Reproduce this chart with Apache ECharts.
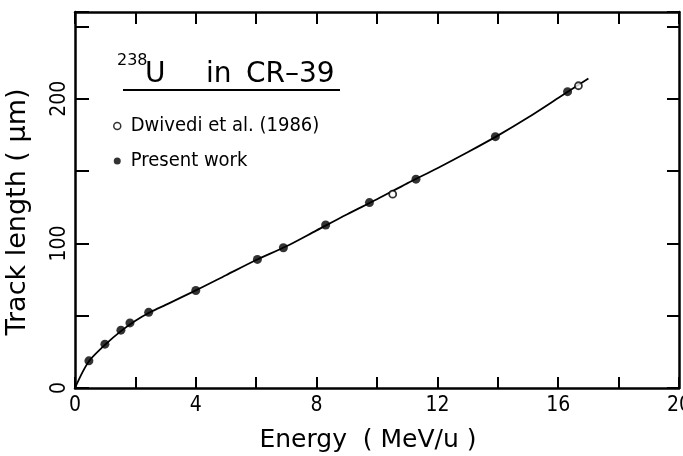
<!DOCTYPE html>
<html>
<head>
<meta charset="utf-8">
<script src="https://cdn.jsdelivr.net/npm/echarts@6/dist/echarts.min.js"></script>
<style>html,body{margin:0;padding:0;background:#fff}#c{width:683px;height:456px}</style>
</head>
<body>
<div id="c"></div>
<script>
// Data
const presentWork = [
  [0.46, 18.8], [0.99, 30.3], [1.52, 40.0], [1.82, 45.0], [2.44, 52.3],
  [4.0, 67.4], [6.04, 88.9], [6.9, 97.0], [8.3, 112.7], [9.75, 128.2],
  [11.29, 144.4], [13.92, 173.8], [16.31, 204.9]
];
const dwivedi = [[10.52, 134.0], [16.67, 209.0]];
const curveE = [0, 0.25, 0.5, 1, 1.5, 2, 2.5, 3, 4, 5, 6, 7, 8, 9, 10, 11, 12, 13, 14, 15, 16, 17];
const curveL = [0, 11, 19.5, 30, 39, 46.5, 52.5, 57.5, 67.5, 78, 88.5, 98, 109, 120, 130.5, 141.5, 152, 163, 174.5, 187, 200.5, 214];
const xTickLabels = [0, 4, 8, 12, 16, 20];
const yTickLabels = [0, 100, 200];

const narrow = '"Liberation Sans Narrow", "DejaVu Sans Condensed", "Liberation Sans", sans-serif';
const round = '"DejaVu Sans", sans-serif';

const chart = echarts.init(document.getElementById('c'));
const axisLine = {show: true, onZero: false, lineStyle: {color: '#000', width: 2.5}};
const tick = (len) => ({show: true, inside: true, length: len, lineStyle: {color: '#000', width: 2}});
chart.setOption({
  animation: false,
  backgroundColor: '#fff',
  grid: {left: 75, right: 4, top: 12, bottom: 68, containLabel: false, outerBoundsMode: 'none'},
  xAxis: [{
    type: 'value', min: 0, max: 20, interval: 2, position: 'bottom',
    name: 'Energy  ( MeV/u )', nameLocation: 'middle', nameGap: 40,
    nameTextStyle: {fontFamily: round, fontSize: 25, color: '#000', padding: [0, 18, 0, 0]},
    axisLine: axisLine,
    axisTick: tick(11),
    axisLabel: {margin: 7, fontFamily: narrow, fontSize: 21, color: '#000',
      formatter: v => xTickLabels.indexOf(v) >= 0 ? String(v) : ''},
    splitLine: {show: false}
  }, {
    type: 'value', min: 0, max: 20, interval: 2, position: 'top',
    axisLine: axisLine,
    axisTick: tick(12),
    axisLabel: {show: false}, splitLine: {show: false}
  }],
  yAxis: [{
    type: 'value', min: 0, max: 260, interval: 50, position: 'left',
    name: 'Track length ( µm)', nameLocation: 'middle', nameGap: 44,
    nameTextStyle: {fontFamily: round, fontSize: 27, color: '#000', padding: [0, 24, 0, 0]},
    axisLine: axisLine,
    axisTick: tick(14),
    axisLabel: {margin: 5, rotate: 90, fontFamily: narrow, fontSize: 21, color: '#000',
      formatter: v => yTickLabels.indexOf(v) >= 0 ? String(v) : ''},
    splitLine: {show: false}
  }, {
    type: 'value', min: 0, max: 260, interval: 50, position: 'right',
    axisLine: axisLine,
    axisTick: tick(12),
    axisLabel: {show: false}, splitLine: {show: false}
  }],
  legend: {
    orient: 'vertical', left: 113, top: 116, itemGap: 15, padding: 0,
    itemWidth: 7, itemHeight: 7,
    textStyle: {fontFamily: narrow, fontSize: 20, color: '#000', padding: [0, 0, 0, 5]},
    data: [
      {name: 'Dwivedi et al. (1986)', icon: 'circle', itemStyle: {color: '#fff', borderColor: '#000', borderWidth: 1.5}},
      {name: 'Present work', icon: 'circle', itemStyle: {color: '#000'}}
    ]
  },
  graphic: [
    {type: 'text', left: 117, top: 53, style: {text: '238', font: '16px ' + round, fill: '#000'}},
    {type: 'text', left: 145, top: 61, style: {text: 'U', font: '28px ' + round, fill: '#000'}},
    {type: 'text', left: 206, top: 61, style: {text: 'in', font: '28px ' + round, fill: '#000'}},
    {type: 'text', left: 246, top: 61, style: {text: 'CR–39', font: '28px ' + round, fill: '#000'}},
    {type: 'line', shape: {x1: 123, y1: 90, x2: 340, y2: 90}, style: {stroke: '#000', lineWidth: 2}}
  ],
  series: [{
    name: 'fit', type: 'line', smooth: 0.3, showSymbol: false, silent: true,
    data: curveE.map((e, i) => [e, curveL[i]]),
    lineStyle: {color: '#000', width: 1.8}, z: 1
  }, {
    name: 'Present work', type: 'scatter', symbol: 'circle', symbolSize: 9,
    data: presentWork, itemStyle: {color: '#000'}, z: 3
  }, {
    name: 'Dwivedi et al. (1986)', type: 'scatter', symbol: 'circle', symbolSize: 7,
    data: dwivedi, itemStyle: {color: '#fff', borderColor: '#000', borderWidth: 1.8}, z: 3
  }]
});
</script>
</body>
</html>
